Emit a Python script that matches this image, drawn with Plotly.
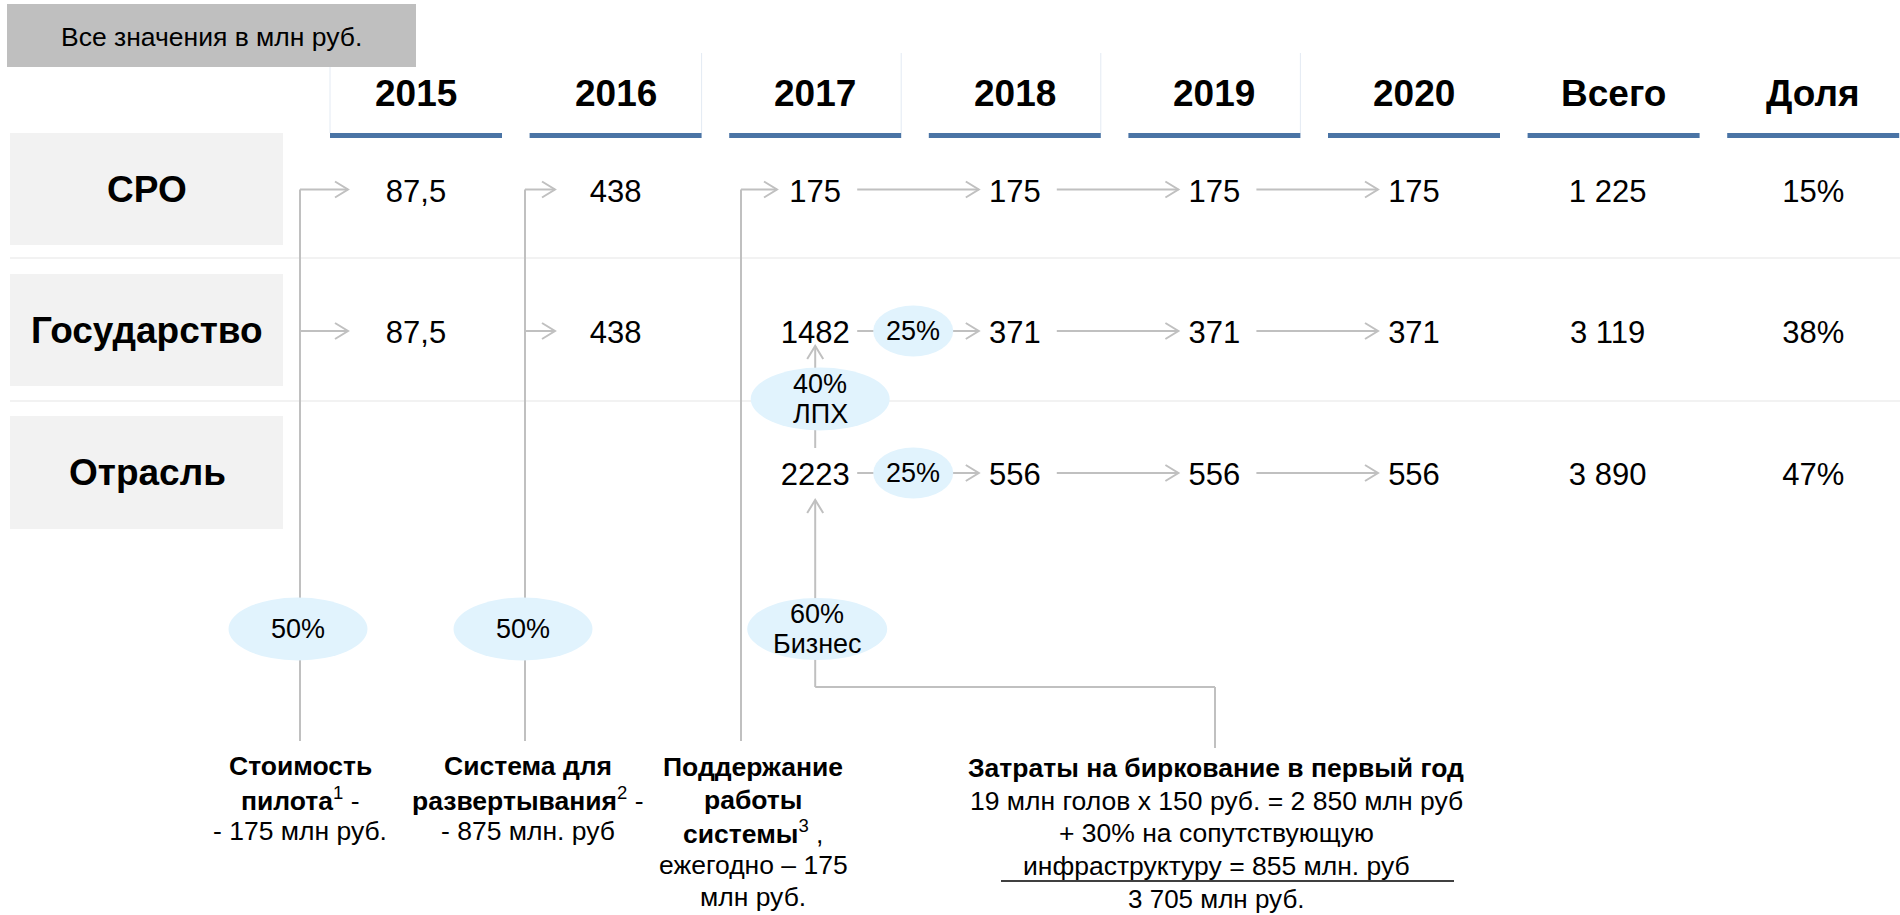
import plotly.graph_objects as go

# ---------------- data ----------------
years = ["2015", "2016", "2017", "2018", "2019", "2020"]
summary_cols = ["Всего", "Доля"]
payers = ["СРО", "Государство", "Отрасль"]
sro_values = [87.5, 438, 175, 175, 175, 175]
gov_values = [87.5, 438, 1482, 371, 371, 371]
industry_values = [None, None, 2223, 556, 556, 556]
totals = [1225, 3119, 3890]
shares = [15, 38, 47]
pilot_split = ["50%"]
deploy_split = ["50%"]
annual_split = ["25%"]
lph_split = ["40%", "ЛПХ"]
business_split = ["60%", "Бизнес"]
units_note = "Все значения в млн руб."
note_pilot = ["<b>Стоимость</b>", "<b>пилота</b><sup>1</sup> -", "- 175 млн руб."]
note_deploy = ["<b>Система для</b>", "<b>развертывания</b><sup>2</sup> -", "- 875 млн. руб"]
note_support = ["<b>Поддержание</b>", "<b>работы</b>", "<b>системы</b><sup>3</sup> ,",
                "ежегодно – 175", "млн руб."]
note_tagging = ["<b>Затраты на биркование в первый год</b>",
                "19 млн голов х 150 руб. = 2 850 млн руб",
                "+ 30% на сопутствующую",
                "инфраструктуру = 855 млн. руб"]
note_tagging_total = "3 705 млн руб."

# ---------------- layout constants ----------------
W, H = 1900, 915
FONT = "Liberation Sans, Arial, sans-serif"
COL0, PITCH, HALF = 416, 199.6, 86
ROW_Y = [189.5, 331, 473]
TEXT_DY = 4.5
GRAY = "#c0c0c0"
ELL = "#e1f3fd"
NOTE_SIZE = 26.5
NOTE_STEP = 32.5


def cx(i):
    return COL0 + PITCH * i


def fmt_year(v):
    if v is None:
        return ""
    if float(v) != int(v):
        return str(v).replace(".", ",")
    return str(int(v))


def fmt_total(v):
    return f"{v:,}".replace(",", " ")


shapes = []
annotations = []


def line(x0, y0, x1, y1, color=GRAY, width=2):
    shapes.append(dict(type="line", x0=x0, y0=y0, x1=x1, y1=y1, xref="x", yref="y",
                       line=dict(color=color, width=width), layer="below"))


def rect(x0, y0, x1, y1, color):
    shapes.append(dict(type="rect", x0=x0, y0=y0, x1=x1, y1=y1, xref="x", yref="y",
                       fillcolor=color, line=dict(width=0), layer="below"))


def chevron(tx, ty, direction):
    L, Hh = 13, 8
    if direction == "right":
        p = f"M {tx-L},{ty-Hh} L {tx},{ty} L {tx-L},{ty+Hh}"
    else:  # up
        p = f"M {tx-Hh},{ty+L} L {tx},{ty} L {tx+Hh},{ty+L}"
    shapes.append(dict(type="path", path=p, xref="x", yref="y",
                       line=dict(color=GRAY, width=2), layer="below"))


ellipses = []


def ellipse(xc, yc, w, h, lines, spacing=30):
    ellipses.append(dict(type="circle", x0=xc - w / 2, x1=xc + w / 2, y0=yc - h / 2, y1=yc + h / 2,
                         xref="x", yref="y", fillcolor=ELL, line=dict(width=0), layer="below"))
    n = len(lines)
    for k, t in enumerate(lines):
        annotations.append(dict(x=xc, y=yc + (k - (n - 1) / 2) * spacing, text=t, showarrow=False,
                                xanchor="center", yanchor="middle",
                                font=dict(size=27, color="black", family=FONT)))


def text(x, y, t, size, bold=False, xanchor="center"):
    annotations.append(dict(x=x, y=y, text=f"<b>{t}</b>" if bold else t, showarrow=False,
                            xanchor=xanchor, yanchor="middle",
                            font=dict(size=size, color="black", family=FONT)))


# faint header cell borders
for xb in [cx(0) - HALF, cx(1) + HALF, cx(2) + HALF, cx(3) + HALF, cx(4) + HALF]:
    line(xb, 53, xb, 133, color="#e3eaf3", width=1)

# units box
rect(7, 4, 416, 67, "#bfbfbf")
text(211, 37, units_note, 26.5)

# headers + underlines
headers = years + summary_cols
for i, h in enumerate(headers):
    text(cx(i), 93, h, 37, bold=True)
    rect(cx(i) - HALF, 133, min(cx(i) + HALF, W), 138, "#4a74a5")

# row label boxes and separators
row_boxes = [(133, 245), (274, 386), (416, 529)]
for r, name in enumerate(payers):
    y0, y1 = row_boxes[r]
    rect(10, y0, 283, y1, "#f2f2f2")
    text(147, (y0 + y1) / 2, name, 37, bold=True)
for ys in [258, 401]:
    line(10, ys, W, ys, color="#f2f2f2", width=2)

# brackets from the bottom notes
brackets = [(300, 348, [0, 1], pilot_split), (525, 555, [0, 1], deploy_split), (741, 777, [0], None)]
for bx, tip, rows_, lab in brackets:
    line(bx, ROW_Y[0], bx, 741)
    for r in rows_:
        line(bx, ROW_Y[r], tip, ROW_Y[r])
        chevron(tip, ROW_Y[r], "right")
    if lab:
        ellipse(bx - 2, 629, 139, 63, lab)

# horizontal arrows between years
series = [sro_values, gov_values, industry_values]
for r, vals in enumerate(series):
    for i in range(2, 5):
        if vals[i] is not None and vals[i + 1] is not None:
            x0, tip = cx(i) + 42, cx(i + 1) - 36
            line(x0, ROW_Y[r], tip, ROW_Y[r])
            chevron(tip, ROW_Y[r], "right")
            if i == 2 and r > 0:
                ellipse(cx(2) + 98, ROW_Y[r], 80, 51, annual_split)

# vertical arrows into 2017
vx = cx(2)
line(vx, ROW_Y[2] - 25, vx, ROW_Y[1] + 15)
chevron(vx, ROW_Y[1] + 15, "up")
ellipse(vx + 5, 399, 139, 63, lph_split)

line(vx, 687, vx, ROW_Y[2] + 27)
chevron(vx, ROW_Y[2] + 27, "up")
line(vx, 687, 1215, 687)
line(1215, 687, 1215, 748)
ellipse(vx + 2, 629, 140, 62, business_split)

shapes.extend(ellipses)


# bottom notes, one annotation per line
def note(x, y_first, lines, size=NOTE_SIZE):
    for k, t in enumerate(lines):
        annotations.append(dict(x=x, y=y_first + k * NOTE_STEP, text=t, showarrow=False,
                                xanchor="center", yanchor="middle",
                                font=dict(size=size, color="black", family=FONT)))


note(300, 766, note_pilot)
note(528, 766, note_deploy)
note(753, 767, note_support)
note(1216, 768, note_tagging)
line(1001, 881, 1454, 881, color="black", width=1.5)
note(1216, 899, [note_tagging_total], size=26)

# value cells as a text trace
xs, ys, ts = [], [], []
for r, vals in enumerate(series):
    for i, v in enumerate(vals):
        if v is not None:
            xs.append(cx(i)); ys.append(ROW_Y[r] + TEXT_DY); ts.append(fmt_year(v))
    xs.append(cx(6) - 6); ys.append(ROW_Y[r] + TEXT_DY); ts.append(fmt_total(totals[r]))
    xs.append(cx(7)); ys.append(ROW_Y[r] + TEXT_DY); ts.append(f"{shares[r]}%")

fig = go.Figure(go.Scatter(x=xs, y=ys, text=ts, mode="text", textposition="middle center",
                           textfont=dict(size=31, color="black", family=FONT), hoverinfo="skip"))

fig.update_layout(
    width=W, height=H, margin=dict(l=0, r=0, t=0, b=0),
    paper_bgcolor="white", plot_bgcolor="white", showlegend=False,
    xaxis=dict(range=[0, W], visible=False, fixedrange=True),
    yaxis=dict(range=[H, 0], visible=False, fixedrange=True),
    shapes=shapes, annotations=annotations,
)

fig.write_html("out.html", config={"displayModeBar": False},
               post_script="document.body.style.margin='0';document.body.style.overflow='hidden';")
